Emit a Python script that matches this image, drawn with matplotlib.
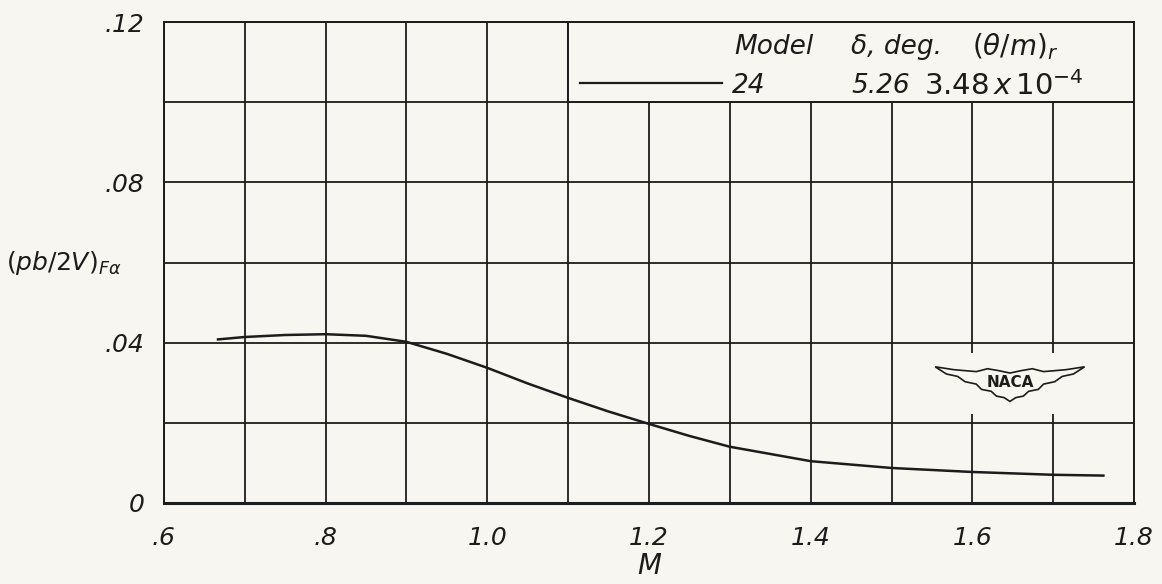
import numpy as np
import matplotlib
matplotlib.use("Agg")
import matplotlib.pyplot as plt
from matplotlib.patches import Rectangle, Polygon

# rolling velocity parameter vs Mach number, model 24
mach = [0.667, 0.70, 0.75, 0.80, 0.85, 0.90, 0.95, 1.00, 1.05, 1.10, 1.15,
        1.20, 1.25, 1.30, 1.40, 1.50, 1.60, 1.70, 1.762]
pb2v = [0.0408, 0.0414, 0.0419, 0.0421, 0.0417, 0.0402, 0.0372, 0.0337,
        0.0298, 0.0262, 0.0228, 0.0197, 0.0167, 0.0140, 0.0104, 0.0087,
        0.0077, 0.0070, 0.0068]

xticks = [0.6, 0.8, 1.0, 1.2, 1.4, 1.6, 1.8]
xlabels = [".6", ".8", "1.0", "1.2", "1.4", "1.6", "1.8"]
yticks = [0, 0.04, 0.08, 0.12]
ylabels = ["0", ".04", ".08", ".12"]

paper = "#f7f6f0"
ink = "#1c1c1c"

plt.rcParams['font.family'] = ['DejaVu Sans']
plt.rcParams['mathtext.fontset'] = 'dejavusans'

fig = plt.figure(figsize=(11.62, 5.84), dpi=100, facecolor=paper)
ax = fig.add_axes([0.141, 0.139, 0.835, 0.823])
ax.set_facecolor(paper)

ax.set_xlim(0.6, 1.8)
ax.set_ylim(0, 0.12)
ax.set_xticks(xticks)
ax.set_xticklabels(xlabels, fontsize=18, style='italic', color=ink)
ax.set_xticks(np.arange(0.6, 1.81, 0.1), minor=True)
ax.set_yticks(yticks)
ax.set_yticklabels(ylabels, fontsize=18, style='italic', color=ink)
ax.set_yticks(np.arange(0, 0.121, 0.02), minor=True)
ax.tick_params(which='both', length=0)
ax.tick_params(axis='x', pad=17)
ax.tick_params(axis='y', pad=14)
ax.grid(True, which='both', color=ink, linewidth=1.3, zorder=1)
ax.set_axisbelow(True)
for s in ax.spines.values():
    s.set_color(ink)
    s.set_linewidth(1.4)
ax.spines['bottom'].set_linewidth(2.2)

ax.plot(mach, pb2v, color=ink, linewidth=1.8, zorder=3)

ax.set_xlabel("M", fontsize=20, style='italic', color=ink, labelpad=1)
ax.text(-0.163, 0.5, r"$(pb/2V)_{F\alpha}$", transform=ax.transAxes,
        fontsize=18, color=ink, ha='left', va='center')

# key box in the upper right
fs = 19
ax.add_patch(Rectangle((1.1, 0.10), 0.7, 0.02, facecolor=paper,
                       edgecolor=ink, linewidth=1.4, zorder=2))
ax.text(1.305, 0.1138, "Model", fontsize=fs, style='italic', color=ink,
        va='center', zorder=4)
ax.text(1.45, 0.1138, "δ, deg.", fontsize=fs, style='italic', color=ink,
        va='center', zorder=4)
ax.text(1.60, 0.1138, r"$(\theta/m)_r$", fontsize=fs + 1, color=ink,
        va='center', zorder=4)
ax.plot([1.115, 1.29], [0.1048, 0.1048], color=ink, linewidth=1.6, zorder=4)
ax.text(1.302, 0.1040, "24", fontsize=fs, style='italic', color=ink,
        va='center', zorder=4)
ax.text(1.45, 0.1040, "5.26", fontsize=fs, style='italic', color=ink,
        va='center', zorder=4)
ax.text(1.54, 0.1040, r"$3.48\,x\,10^{-4}$", fontsize=fs + 2, color=ink,
        va='center', zorder=4)

# NACA wings emblem
ax.add_patch(Rectangle((1.545, 0.0222), 0.22, 0.0153, facecolor=paper,
                       edgecolor='none', zorder=2))
cx, hw = 0.872, 0.077
half_bottom = [(-1.0, 0.283), (-0.85, 0.268), (-0.7, 0.263), (-0.6, 0.252),
               (-0.45, 0.247), (-0.38, 0.236), (-0.25, 0.232), (-0.18, 0.222),
               (-0.08, 0.219)]
half_top = [(-0.75, 0.277), (-0.45, 0.273), (-0.3, 0.279), (-0.15, 0.275)]
outline = half_bottom + [(0.0, 0.211)]
outline += [(-dx, y) for dx, y in reversed(half_bottom)]
outline += [(-dx, y) for dx, y in half_top]
outline += [(0.0, 0.270)] + list(reversed(half_top))
wing = [(cx + dx * hw, y) for dx, y in outline]
ax.add_patch(Polygon(wing, closed=True, transform=ax.transAxes,
                     facecolor=paper, edgecolor=ink, linewidth=1.2, zorder=4))
ax.text(cx, 0.251, "NACA", transform=ax.transAxes, fontsize=11,
        fontweight='bold', color=ink, ha='center', va='center', zorder=5)

fig.savefig("out.png", dpi=100, facecolor=paper)
